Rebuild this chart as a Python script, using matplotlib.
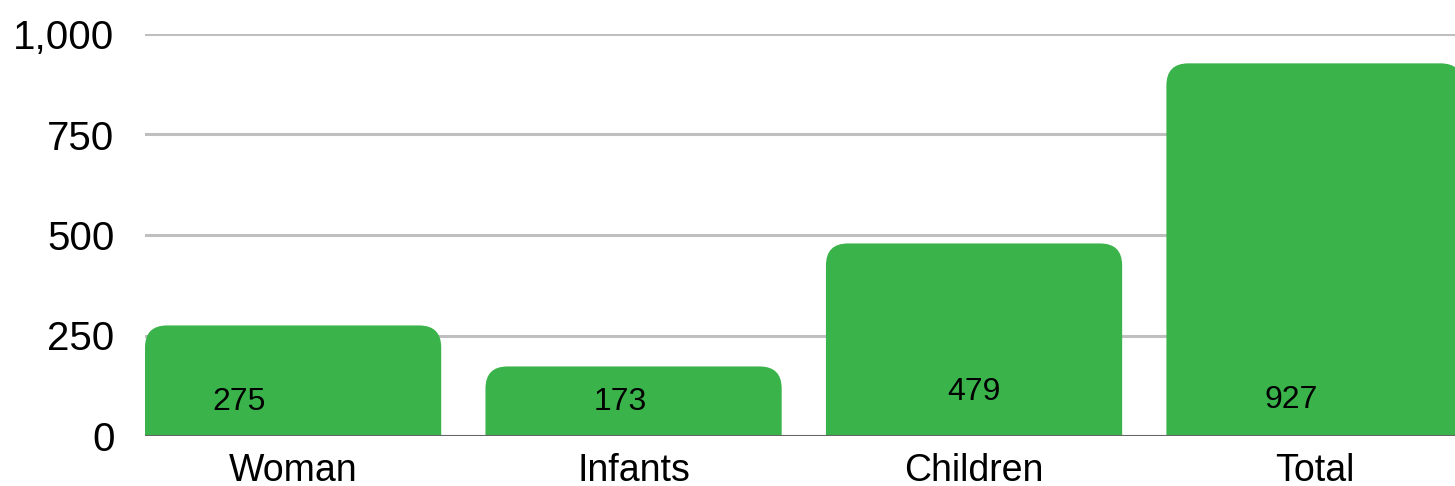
import matplotlib
matplotlib.use("Agg")
import matplotlib.pyplot as plt
from matplotlib.patches import FancyBboxPatch
from matplotlib.ticker import FuncFormatter

# --- data ---------------------------------------------------------------
categories = ["Woman", "Infants", "Children", "Total"]
values = [275, 173, 479, 927]
yticks = [0, 250, 500, 750, 1000]

# label placement inside bars (x offset from bar centre, y in data units)
label_dx = [-0.16, -0.04, 0.0, -0.07]
label_y = [85, 85, 109, 90]

GREEN = "#39B34A"
GRID = "#BFBFBF"
BASE = "#666666"

plt.rcParams["font.family"] = ["Liberation Sans", "DejaVu Sans"]

W, H = 1455, 486
fig = plt.figure(figsize=(W / 100, H / 100), dpi=100)
ax = fig.add_axes([145 / W, (H - 436) / H, (W - 145) / W, (436 - 34) / H])

bar_w = 0.87
ax.set_xlim(-bar_w / 2, 3.4126)
ax.set_ylim(0, 1000)

# pixel scales for rounding corners evenly
px_x = (ax.get_xlim()[1] - ax.get_xlim()[0]) / (W - 145)
px_y = 1000 / (436 - 34)
radius_px = 22

for i, v in enumerate(values):
    # extend below 0 so only the top corners show rounded
    patch = FancyBboxPatch(
        (i - bar_w / 2, -200), bar_w, v + 200,
        boxstyle=f"round,pad=0,rounding_size={radius_px * px_x}",
        mutation_aspect=px_y / px_x,
        facecolor=GREEN, edgecolor="none", zorder=2)
    ax.add_patch(patch)
    ax.text(i + label_dx[i], label_y[i], f"{v}", ha="center", va="center",
            fontsize=23, color="black", zorder=4)

ax.axhline(0, color=BASE, lw=2.2, zorder=3)

ax.set_yticks(yticks)
ax.yaxis.set_major_formatter(FuncFormatter(lambda v, p: f"{int(v):,}"))
ax.set_xticks(range(len(categories)))
ax.set_xticklabels(categories)
ax.grid(axis="y", color=GRID, lw=2.2, zorder=1)
ax.set_axisbelow(True)
for s in ax.spines.values():
    s.set_visible(False)
ax.tick_params(axis="y", length=0, pad=22, labelsize=29)
ax.tick_params(axis="x", length=0, pad=12, labelsize=27)

fig.savefig("out.png", dpi=100)
